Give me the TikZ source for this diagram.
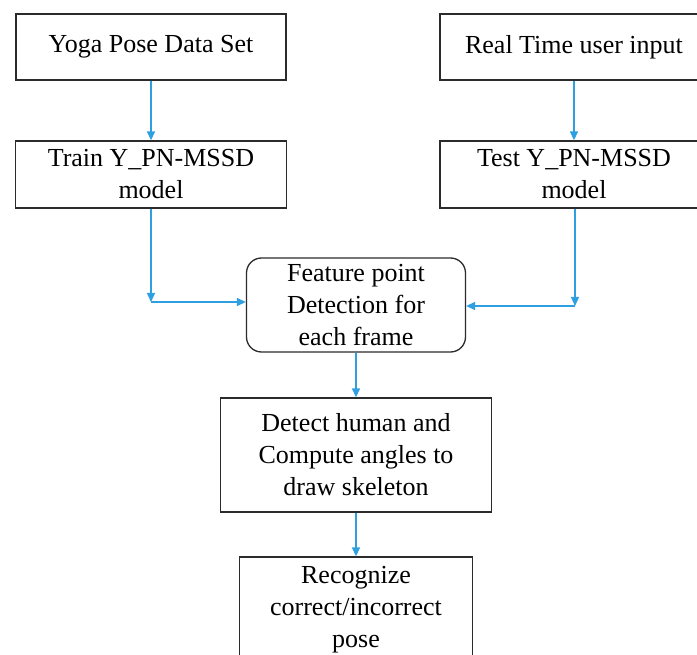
\documentclass[tikz,border=0pt]{standalone}
\usepackage{fontspec}
\setmainfont{Liberation Serif}
\usetikzlibrary{arrows.meta}
\definecolor{arrowblue}{HTML}{2E9FE0}
\definecolor{boxline}{HTML}{2B2B2B}
\begin{document}
\begin{tikzpicture}[x=1pt,y=-1pt,
  box/.style={draw=boxline, line width=1.3pt, rectangle, inner sep=0pt, align=center,
    font=\fontsize{26}{32}\selectfont},
  flow/.style={draw=arrowblue, line width=1.4pt, -{Triangle[length=9pt,width=8pt]}}]
\useasboundingbox (0,0) rectangle (697,655);
\clip (0,0) rectangle (697,655);
\node[box, minimum width=270pt, minimum height=66pt] (b1) at (151,47) {Yoga Pose Data Set};
\node[box, minimum width=268pt, minimum height=66pt] (b2) at (574,47) {Real Time user input};
\node[box, minimum width=271pt, minimum height=67pt] (b3) at (151,174.5) {Train Y\_PN-MSSD\\model};
\node[box, minimum width=268pt, minimum height=67pt] (b4) at (574,174.5) {Test Y\_PN-MSSD\\model};
\node[box, rounded corners=15pt, minimum width=219pt, minimum height=94pt] (b5) at (356,305) {Feature point\\Detection for\\each frame};
\node[box, minimum width=271pt, minimum height=114pt] (b6) at (356,455) {Detect human and\\Compute angles to\\draw skeleton};
\node[box, minimum width=233pt, minimum height=106pt] (b7) at (356,610) {Recognize\\correct/incorrect\\pose};
\coordinate (c1) at (151,302);
\coordinate (c2) at (575,306);
\draw[flow] (b1.south) -- (b3.north);
\draw[flow] (b2.south) -- (b4.north);
\draw[flow] (b3.south) -- (c1);
\draw[flow] (c1) -- (c1 -| b5.west);
\draw[flow] (b4.south -| c2) -- (c2);
\draw[flow] (c2) -- (c2 -| b5.east);
\draw[flow] (b5.south) -- (b6.north);
\draw[flow] (b6.south) -- (b7.north);
\end{tikzpicture}
\end{document}
